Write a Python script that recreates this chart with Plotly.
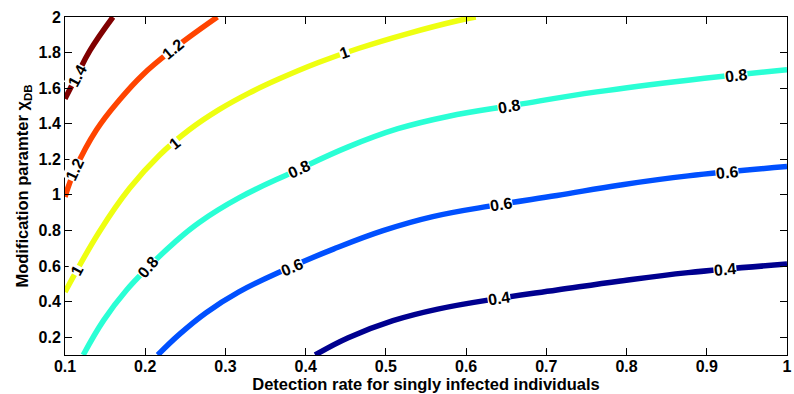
import plotly.graph_objects as go

# Contour levels and their colours (jet colormap)
levels = [0.4, 0.6, 0.8, 1.0, 1.2, 1.4]
colors = ["#00008f", "#0050ff", "#2affd5", "#eeff11", "#ff4400", "#800000"]

# Points (x: detection rate, y: modification parameter)
c04_x = [0.4118, 0.4531, 0.5088, 0.5646, 0.6389, 0.7132, 0.7925, 0.8767, 1.0]
c04_y = [0.100, 0.197, 0.293, 0.358, 0.417, 0.465, 0.516, 0.563, 0.611]

c06_x = [0.2156, 0.2425, 0.2759, 0.3168, 0.3726, 0.4345, 0.4964, 0.5584, 0.6389,
         0.7132, 0.7925, 0.8767, 1.0]
c06_y = [0.100, 0.216, 0.338, 0.455, 0.577, 0.695, 0.799, 0.878, 0.944,
         0.997, 1.056, 1.107, 1.159]

c08_x = [0.1227, 0.1483, 0.1768, 0.2053, 0.2363, 0.2673, 0.3168, 0.3849, 0.4531,
         0.5150, 0.5770, 0.6637, 0.7628, 0.8767, 1.0]
c08_y = [0.100, 0.296, 0.465, 0.600, 0.732, 0.845, 0.983, 1.130, 1.270,
         1.372, 1.441, 1.507, 1.579, 1.645, 1.704]

c10_x = [0.100, 0.1434, 0.1805, 0.2177, 0.2549, 0.2920, 0.3292, 0.3664, 0.4159,
         0.4655, 0.5274, 0.5893, 0.612]
c10_y = [0.454, 0.797, 1.037, 1.223, 1.366, 1.479, 1.572, 1.651, 1.744,
         1.823, 1.907, 1.979, 2.0]

c12_x = [0.100, 0.1124, 0.1393, 0.1681, 0.1970, 0.2342, 0.2899]
c12_y = [0.989, 1.141, 1.366, 1.535, 1.676, 1.817, 2.0]

c14_x = [0.100, 0.1145, 0.1310, 0.1598]
c14_y = [1.541, 1.668, 1.811, 2.0]

curves = [(c04_x, c04_y), (c06_x, c06_y), (c08_x, c08_y),
          (c10_x, c10_y), (c12_x, c12_y), (c14_x, c14_y)]

# Contour label positions (x, y, text, angle)
lab_x = [0.641, 0.9226, 0.3828, 0.643, 0.9247, 0.2032, 0.3911, 0.6534, 0.937,
         0.1145, 0.2363, 0.449, 0.1124, 0.2342, 0.1145]
lab_y = [0.417, 0.579, 0.592, 0.947, 1.125, 0.592, 1.143, 1.499, 1.672,
         0.577, 1.291, 1.798, 1.141, 1.817, 1.668]
lab_t = ["0.4", "0.4", "0.6", "0.6", "0.6", "0.8", "0.8", "0.8", "0.8",
         "1", "1", "1", "1.2", "1.2", "1.4"]
lab_a = [-8.5, -5.5, -23, -9, -6, -50, -25, -9.5, -6.5,
         -62, -39, -19, -65, -40, -62]

x_ticks = [0.1, 0.2, 0.3, 0.4, 0.5, 0.6, 0.7, 0.8, 0.9, 1]
y_ticks = [0.2, 0.4, 0.6, 0.8, 1, 1.2, 1.4, 1.6, 1.8, 2]

fig = go.Figure()
for (cx, cy), col in zip(curves, colors):
    fig.add_trace(go.Scatter(x=cx, y=cy, mode="lines",
                             line=dict(color=col, width=5.5, shape="spline", smoothing=1.2),
                             showlegend=False, hoverinfo="skip"))

for x, y, t, a in zip(lab_x, lab_y, lab_t, lab_a):
    fig.add_annotation(x=x, y=y, text="<b>%s</b>" % t, showarrow=False, textangle=a,
                       font=dict(family="Liberation Sans, Arial", size=16, color="black"),
                       bgcolor="white", borderpad=0)

tick_font = dict(family="Liberation Sans, Arial", size=16, color="black")
title_font = dict(family="Liberation Sans, Arial", size=16.5, color="black")
fig.update_xaxes(range=[0.1, 1], tickvals=x_ticks,
                 ticktext=["<b>%g</b>" % v for v in x_ticks],
                 ticks="inside", ticklen=7, tickcolor="black", mirror="allticks",
                 showline=True, linecolor="black", linewidth=1, showgrid=False,
                 zeroline=False, tickfont=tick_font, ticklabeloverflow="allow",
                 ticklabelstandoff=-3,
                 title=dict(text="<b>Detection rate for singly infected individuals</b>",
                            font=title_font, standoff=2))
fig.update_yaxes(range=[0.1, 2], tickvals=y_ticks,
                 ticktext=["<b>%g</b>" % v for v in y_ticks],
                 ticks="inside", ticklen=7, tickcolor="black", mirror="allticks",
                 showline=True, linecolor="black", linewidth=1, showgrid=False,
                 zeroline=False, tickfont=tick_font, ticklabeloverflow="allow",
                 title=dict(text="<b>Modification paramter χ<sub>DB</sub></b>",
                            font=title_font, standoff=5))
fig.update_layout(width=794, height=394, plot_bgcolor="white", paper_bgcolor="white",
                  margin=dict(l=65, r=2, t=17, b=39))
fig.write_html("out.html")
